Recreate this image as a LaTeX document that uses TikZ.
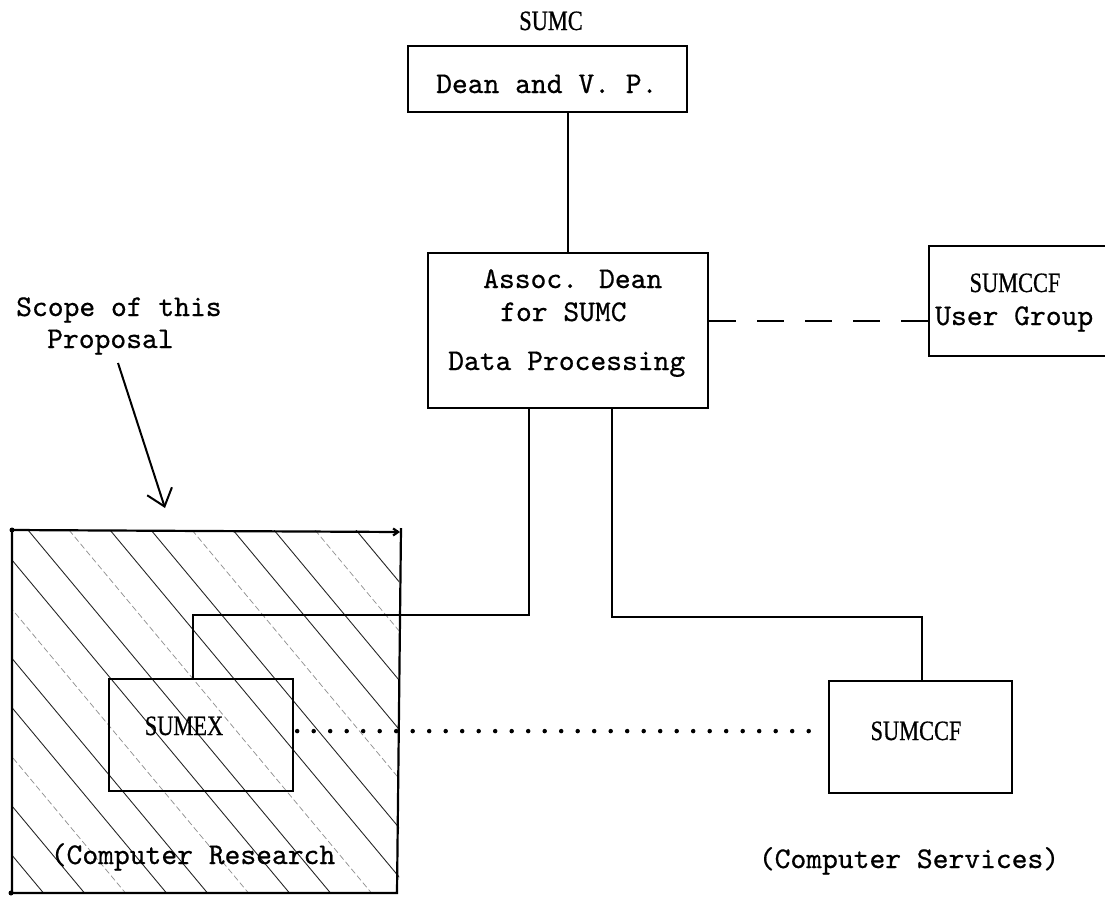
\documentclass[tikz,border=0pt]{standalone}
\usepackage{fontspec}
\newfontfamily\lblfont[FakeStretch=0.8,FakeBold=0.6]{Liberation Serif}
\newfontfamily\typew{lmmono10-regular}[Extension=.otf,FakeBold=0.6]
\usetikzlibrary{arrows.meta}
\tikzset{
  boxn/.style={draw, line width=2.2pt, inner sep=0pt, anchor=north west},
  conn/.style={line width=2pt},
  frame/.style={line width=2.2pt},
  tt/.style={inner sep=0pt, font=\typew\fontsize{30.1}{36}\selectfont},
  lbl/.style={inner sep=0pt, font=\lblfont\fontsize{28}{32}\selectfont},
  hatchdark/.style={black!85, line width=0.9pt},
  hatchfaint/.style={black!45, line width=0.7pt, dash pattern=on 6pt off 3pt},
  dashconn/.style={line width=1.8pt, dash pattern=on 27pt off 21pt},
  dotconn/.style={line width=4.5pt, line cap=round, dash pattern=on 0pt off 16.5pt},
}
\begin{document}
\begin{tikzpicture}[x=1pt,y=-1pt]
\useasboundingbox (0,0) rectangle (1105,897);
\clip (0,0) rectangle (1105,897);

% hatched scope area
\begin{scope}
  \clip (12,530) rectangle (399,893);
  \foreach \k in {-10,...,10}{
    \pgfmathtruncatemacro\m{mod(\k+30,3)}
    \ifnum\m=1
      \draw[hatchfaint] (28+41*\k,530) -- ++(480,576);
    \else
      \draw[hatchdark] (28+41*\k,530) -- ++(480,576);
    \fi
  }
\end{scope}
\draw[frame] (401,528) -- (397,893) -- (12,893) -- (12,530);
\draw[frame, -{Straight Barb[length=5pt,width=7pt]}] (12,530) -- (400,532);
\fill (12,530) circle (2.5pt);
\fill (11,893) circle (2.5pt);

% boxes
\node[boxn, minimum width=279pt, minimum height=66pt] (dean) at (407,45) {};
\node[boxn, minimum width=280pt, minimum height=155pt] (assoc) at (427,252) {};
\node[boxn, minimum width=200pt, minimum height=110pt] (ug) at (928,245) {};
\node[boxn, minimum width=184pt, minimum height=112pt] (sumex) at (108,678) {};
\node[boxn, minimum width=183pt, minimum height=112pt] (sumccf) at (828,680) {};

% texts
\node[lbl, anchor=base] (tsumc) at (551,30) {SUMC};
\node[tt, anchor=base west] (tdean) at (436,93) {Dean and V. P.};
\node[tt, anchor=base west] (ta1) at (483,288) {Assoc. Dean};
\node[tt, anchor=base west] (ta2) at (500,321) {for SUMC};
\node[tt, anchor=base west] (ta3) at (448,370) {Data Processing};
\node[lbl, anchor=base] (tug1) at (1015,292) {SUMCCF};
\node[tt, anchor=base west] (tug2) at (935,325) {User Group};
\node[tt, anchor=base west] (scope1) at (16,316) {Scope of this};
\node[tt, anchor=base west] (scope2) at (47,348) {Proposal};
\node[lbl, anchor=base] (tsumex) at (184,735) {SUMEX};
\node[lbl, anchor=base] (tsumccf) at (916,740) {SUMCCF};
\node[tt, anchor=base] (tres) at (193,864) {(Computer Research};
\node[tt, anchor=base] (tserv) at (909,868) {(Computer Services)};

% connectors
\draw[conn] (assoc.north) -- (assoc.north |- dean.south);
\coordinate (j1) at (193,615);
\coordinate (j2) at (922,617);
\draw[conn] ([xshift=-39pt]assoc.south) |- (j1) -- (j1 |- sumex.north);
\draw[conn] ([xshift=44pt]assoc.south) |- (j2) -- (j2 |- sumccf.north);
\draw[dashconn] ([yshift=9.5pt]assoc.east) -- ([yshift=9.5pt]assoc.east -| ug.west);
\draw[dotconn, shorten >=15pt] ([yshift=4pt,xshift=3pt]sumex.east) -- ([yshift=4pt]sumex.east -| sumccf.west);

% scope arrow
\coordinate (tail) at (118,363);
\coordinate (tip) at (165,508);
\draw[conn, -{Straight Barb[length=16pt,width=26pt]}] (tail) -- (tip);
\end{tikzpicture}
\end{document}
